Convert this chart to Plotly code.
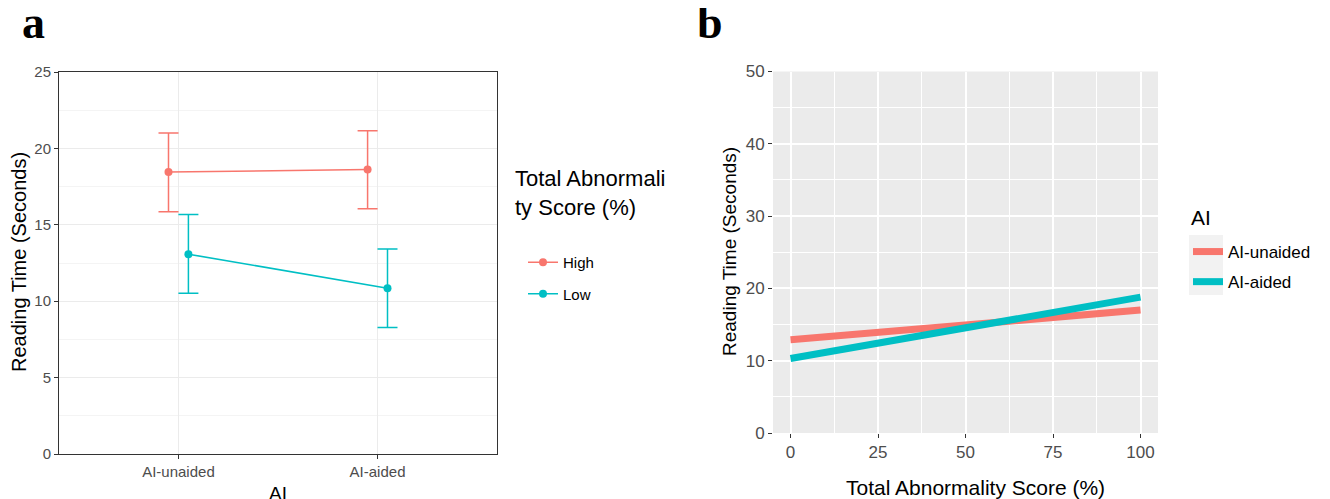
import plotly.graph_objects as go

# ---------------- data ----------------
categories = ["AI-unaided", "AI-aided"]
groups = ["High", "Low"]
high_mean = [18.45, 18.62]
high_upper = [21.0, 21.15]
high_lower = [15.85, 16.05]
low_mean = [13.08, 10.85]
low_upper = [15.68, 13.42]
low_lower = [10.52, 8.28]

score_x = [0, 100]
unaided_y = [12.9, 17.0]
aided_y = [10.3, 18.8]
ai_labels = ["AI-unaided", "AI-aided"]

y_ticks_a = [0, 5, 10, 15, 20, 25]
y_ticks_b = [0, 10, 20, 30, 40, 50]
x_ticks_b = [0, 25, 50, 75, 100]

RED = "#F8766D"
CYAN = "#00BFC4"
FONT = "Liberation Sans, Arial, sans-serif"
SERIF = "Liberation Serif, Times New Roman, serif"
PAGE_MARGIN = 8          # default body margin of the html page
W, H = 1330 - PAGE_MARGIN, 499 - PAGE_MARGIN


def px(x):
    return (x - PAGE_MARGIN) / W


def py(y):
    return 1 - (y - PAGE_MARGIN) / H


fig = go.Figure()

# ---------------- panel a ----------------
dodge = 0.05
cat_pos = list(range(1, len(categories) + 1))
series_a = [
    (groups[0], high_mean, high_upper, high_lower, RED, -dodge),
    (groups[1], low_mean, low_upper, low_lower, CYAN, dodge),
]
for name, m, up, lo, col, off in series_a:
    xs = [c + off for c in cat_pos]
    fig.add_trace(go.Scatter(
        x=xs, y=m, mode="lines+markers", name=name,
        line=dict(color=col, width=1.5),
        marker=dict(color=col, size=8),
        error_y=dict(type="data", symmetric=False,
                     array=[u - v for u, v in zip(up, m)],
                     arrayminus=[v - l for v, l in zip(m, lo)],
                     color=col, thickness=1.5, width=10),
        xaxis="x", yaxis="y", legend="legend", legendgroup=name,
        showlegend=False,
    ))
    fig.add_trace(go.Scatter(
        x=[None], y=[None], mode="lines+markers", name=name,
        line=dict(color=col, width=1.5), marker=dict(color=col, size=8),
        xaxis="x", yaxis="y", legend="legend", legendgroup=name,
    ))

# ---------------- panel b ----------------
for name, ys, col in [(ai_labels[0], unaided_y, RED), (ai_labels[1], aided_y, CYAN)]:
    fig.add_trace(go.Scatter(
        x=score_x, y=ys, mode="lines", name=name,
        line=dict(color=col, width=7),
        xaxis="x2", yaxis="y2", legend="legend2", legendgroup="b" + name,
    ))

tickfont_a = dict(family=FONT, size=15, color="#4D4D4D")
tickfont_b = dict(family=FONT, size=17, color="#4D4D4D")

fig.update_layout(
    width=W, height=H,
    margin=dict(l=0, r=0, t=0, b=0),
    paper_bgcolor="white", plot_bgcolor="white",
    font=dict(family=FONT, color="black"),
    xaxis=dict(
        domain=[px(59), px(497)], range=[0.4, 2.6],
        tickvals=cat_pos, ticktext=categories, tickfont=tickfont_a,
        showgrid=True, gridcolor="#EBEBEB", gridwidth=1,
        zeroline=False, showline=True, mirror=True, linecolor="#333333", linewidth=1,
        ticks="outside", ticklen=4, tickcolor="#333333", automargin=False,
        anchor="y",
    ),
    yaxis=dict(
        domain=[py(454), py(72)], range=[0, 25],
        tickvals=y_ticks_a, tickfont=tickfont_a,
        showgrid=True, gridcolor="#EBEBEB", gridwidth=1,
        minor=dict(dtick=2.5, tick0=0, showgrid=True, gridcolor="#F4F4F4", gridwidth=0.7, ticks=""),
        zeroline=False, showline=True, mirror=True, linecolor="#333333", linewidth=1,
        ticks="outside", ticklen=4, tickcolor="#333333", automargin=False,
        anchor="x",
    ),
    xaxis2=dict(
        domain=[px(773), px(1158)], range=[-5, 105],
        tickvals=x_ticks_b, tickfont=tickfont_b,
        showgrid=True, gridcolor="white", gridwidth=1.6,
        minor=dict(dtick=12.5, tick0=0, showgrid=True, gridcolor="white", gridwidth=0.8, ticks=""),
        zeroline=False, showline=False,
        ticks="outside", ticklen=4, tickcolor="#333333", automargin=False,
        anchor="y2",
    ),
    yaxis2=dict(
        domain=[py(433), py(71.5)], range=[0, 50],
        tickvals=y_ticks_b, tickfont=tickfont_b,
        showgrid=True, gridcolor="white", gridwidth=1.6,
        minor=dict(dtick=5, tick0=0, showgrid=True, gridcolor="white", gridwidth=0.8, ticks=""),
        zeroline=False, showline=False,
        ticks="outside", ticklen=4, tickcolor="#333333", automargin=False,
        anchor="x2",
    ),
    legend=dict(
        x=px(523), y=py(246), xanchor="left", yanchor="top",
        font=dict(family=FONT, size=15, color="black"),
        bgcolor="rgba(0,0,0,0)", tracegroupgap=9, itemwidth=30,
    ),
    legend2=dict(
        x=px(1188), y=py(234), xanchor="left", yanchor="top",
        font=dict(family=FONT, size=17, color="black"),
        bgcolor="rgba(0,0,0,0)", tracegroupgap=5, itemwidth=30,
    ),
)

# panel b background and legend key background
fig.add_shape(type="rect", xref="x2 domain", yref="y2 domain", x0=0, x1=1, y0=0, y1=1,
              fillcolor="#EBEBEB", line=dict(width=0), layer="below")
fig.add_shape(type="rect", xref="paper", yref="paper", x0=px(1189), x1=px(1223),
              y0=py(295), y1=py(235), fillcolor="#F2F2F2", line=dict(width=0), layer="below")

annotations = [
    dict(text="<b>a</b>", x=px(20), y=py(22), xanchor="left", yanchor="middle",
         font=dict(family=SERIF, size=46, color="black")),
    dict(text="<b>b</b>", x=px(695), y=py(22), xanchor="left", yanchor="middle",
         font=dict(family=SERIF, size=46, color="black")),
    dict(text="Reading Time (Seconds)", x=px(19), y=py(262), textangle=-90,
         xanchor="center", yanchor="middle", font=dict(family=FONT, size=20, color="black")),
    dict(text="AI", x=px(278), y=py(481), xanchor="center", yanchor="top",
         font=dict(family=FONT, size=19, color="black")),
    dict(text="Reading Time (Seconds)", x=px(729), y=py(252), textangle=-90,
         xanchor="center", yanchor="middle", font=dict(family=FONT, size=19, color="black")),
    dict(text="Total Abnormality Score (%)", x=px(975), y=py(487), xanchor="center", yanchor="middle",
         font=dict(family=FONT, size=21, color="black")),
    dict(text="Total Abnormali<br>ty Score (%)", x=px(513), y=py(193), xanchor="left", yanchor="middle",
         align="left", font=dict(family=FONT, size=22, color="black")),
    dict(text="AI", x=px(1189), y=py(217), xanchor="left", yanchor="middle",
         font=dict(family=FONT, size=21, color="black")),
]
for a in annotations:
    a.update(xref="paper", yref="paper", showarrow=False)
fig.update_layout(annotations=annotations)

fig.write_html("out.html")
